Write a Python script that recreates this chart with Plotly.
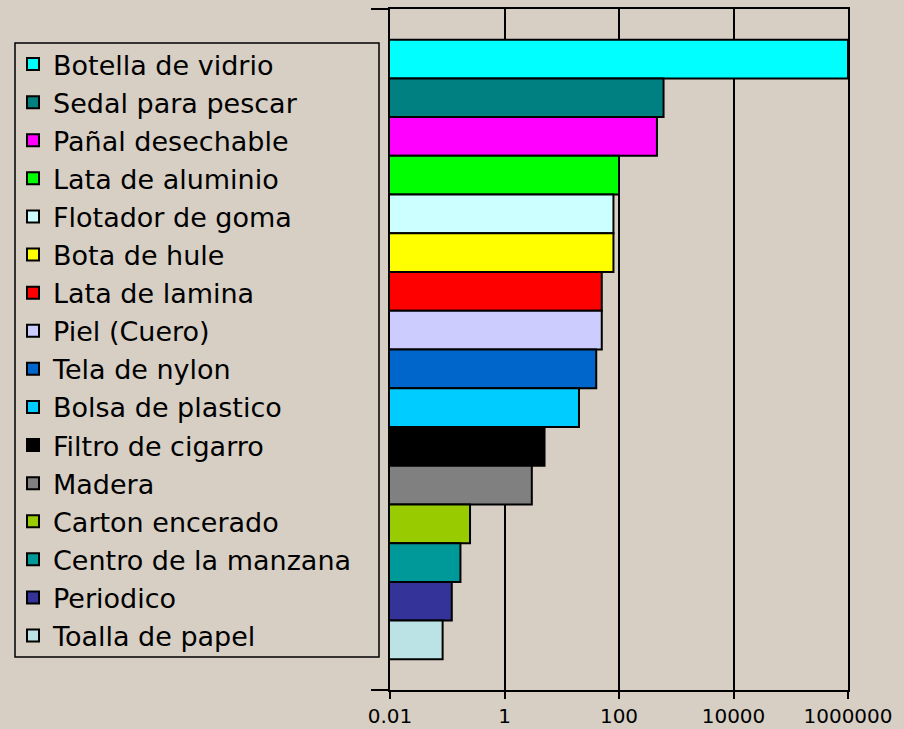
import plotly.graph_objects as go

items = ["Botella de vidrio", "Sedal para pescar", "Pañal desechable", "Lata de aluminio",
         "Flotador de goma", "Bota de hule", "Lata de lamina", "Piel (Cuero)",
         "Tela de nylon", "Bolsa de plastico", "Filtro de cigarro", "Madera",
         "Carton encerado", "Centro de la manzana", "Periodico", "Toalla de papel"]
years = [1000000, 600, 460, 100, 80, 80, 50, 50, 40, 20, 5, 3, 0.25, 0.17, 0.12, 0.083]
colors = ["#00FFFF", "#008080", "#FF00FF", "#00FF00", "#CCFFFF", "#FFFF00", "#FF0000",
          "#CCCCFF", "#0066CC", "#00CCFF", "#000000", "#808080", "#99CC00", "#009999",
          "#333399", "#BBE3E6"]
tick_vals = [0.01, 1, 100, 10000, 1000000]
tick_text = ["0.01", "1", "100", "10000", "1000000"]

fig = go.Figure()
for name, val, col in zip(items, years, colors):
    fig.add_trace(go.Bar(
        x=[val], y=["g"], name=name, orientation="h",
        marker=dict(color=col, line=dict(color="black", width=2)),
    ))

bg = "#d7cfc4"
W, H = 904, 729
ml, mr, mt, mb = 390, 56, 9, 39
pw, ph = W - ml - mr, H - mt - mb

def px_x(x):
    return (x - ml) / pw

def px_y(y):
    return (H - mb - y) / ph

fig.update_layout(
    width=W, height=H,
    margin=dict(l=ml, r=mr, t=mt, b=mb, autoexpand=False),
    paper_bgcolor=bg, plot_bgcolor=bg,
    barmode="group", bargap=0.09, bargroupgap=0,
    font=dict(family="DejaVu Sans", color="black"),
    showlegend=True,
    legend=dict(
        x=px_x(13), y=px_y(40), xanchor="left", yanchor="top",
        font=dict(size=27, family="DejaVu Sans", color="black"),
        bgcolor="rgba(0,0,0,0)", borderwidth=0,
        traceorder="normal", itemwidth=30,
    ),
    shapes=[dict(
        type="rect", xref="paper", yref="paper",
        x0=px_x(15), x1=px_x(379), y0=px_y(657), y1=px_y(43),
        line=dict(color="black", width=1.5), fillcolor="rgba(0,0,0,0)",
        layer="below",
    )],
    xaxis=dict(
        type="log", range=[-2, 6], automargin=False,
        tickvals=tick_vals, ticktext=tick_text,
        tickfont=dict(size=20, color="black"),
        ticks="outside", ticklen=7, tickwidth=2, tickcolor="black",
        ticklabelstandoff=0,
        showgrid=True, gridcolor="black", gridwidth=2,
        showline=True, linecolor="black", linewidth=2, mirror=True,
        zeroline=False,
    ),
    yaxis=dict(
        type="category", range=[0.5, -0.5], automargin=False,
        showticklabels=False, tickson="boundaries",
        ticks="outside", ticklen=17, tickwidth=2, tickcolor="black",
        showgrid=False, showline=True, linecolor="black", linewidth=2, mirror=True,
    ),
)

fig.write_html(
    "out.html",
    config={"displayModeBar": False},
    post_script="document.body.style.margin='0';document.body.style.overflow='hidden';"
                "document.body.style.background='" + bg + "';",
)
